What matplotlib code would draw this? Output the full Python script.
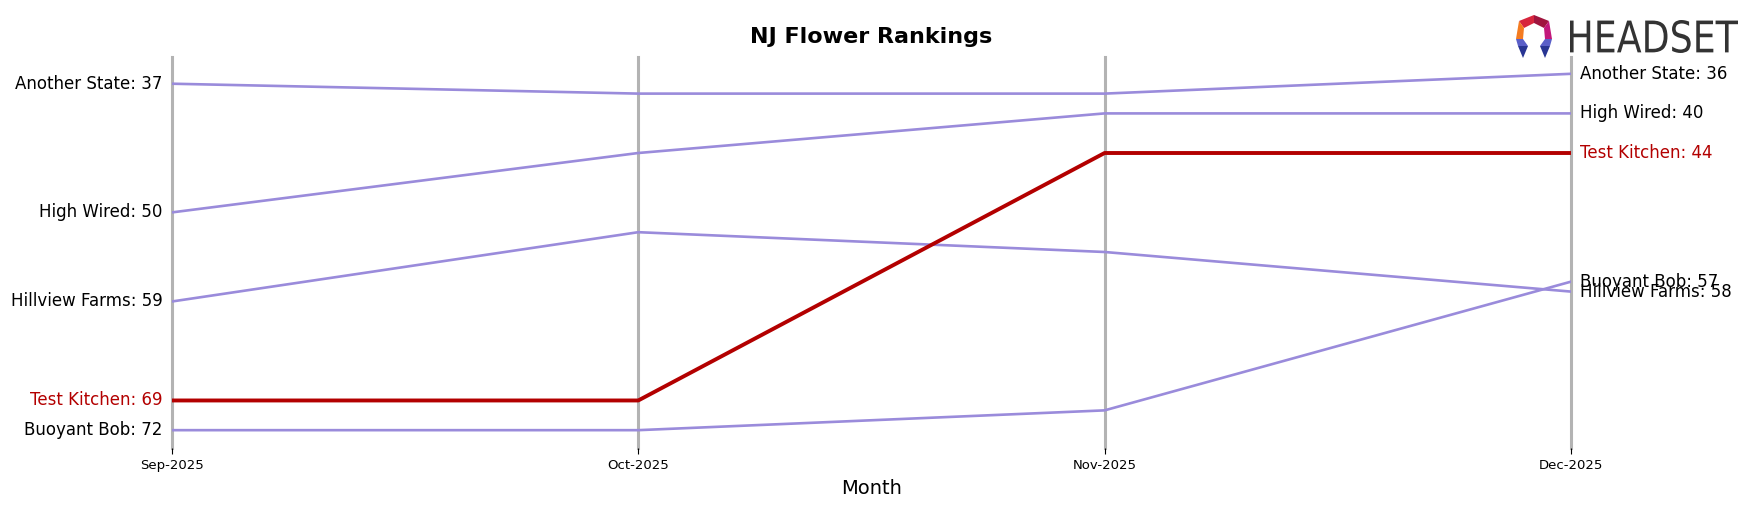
import matplotlib.pyplot as plt
from matplotlib.patches import Polygon, PathPatch
from matplotlib.textpath import TextPath
from matplotlib.font_manager import FontProperties
from matplotlib.transforms import Affine2D

months = ["Sep-2025", "Oct-2025", "Nov-2025", "Dec-2025"]
brands = ["Another State", "High Wired", "Hillview Farms", "Test Kitchen", "Buoyant Bob"]
another_state = [37, 38, 38, 36]
high_wired = [50, 44, 40, 40]
hillview_farms = [59, 52, 54, 58]
test_kitchen = [69, 69, 44, 44]
buoyant_bob = [72, 72, 70, 57]
ranks = [another_state, high_wired, hillview_farms, test_kitchen, buoyant_bob]
highlight = "Test Kitchen"

purple = "#9a8bdb"
red = "#b30000"

fig = plt.figure(figsize=(17.53, 5.07), dpi=100)
ax = fig.add_axes([0.0981, 0.1164, 0.798, 0.7712])

x = list(range(len(months)))
for name, r in zip(brands, ranks):
    if name == highlight:
        ax.plot(x, r, color=red, lw=2.8, zorder=3)
        c = red
    else:
        ax.plot(x, r, color=purple, lw=1.9, zorder=2)
        c = "black"
    ax.text(-0.02, r[0], f"{name}: {r[0]}", ha="right", va="center", fontsize=12, color=c)
    ax.text(3.02, r[-1], f"{name}: {r[-1]}", ha="left", va="center", fontsize=12, color=c)

for xi in x:
    ax.axvline(xi, color="#b3b3b3", lw=2.2, zorder=1, clip_on=False)

ax.set_xlim(0, 3)
ax.set_ylim(73.8, 34.3)
ax.set_xticks(x)
ax.set_xticklabels(months, fontsize=9.5)
ax.tick_params(axis="x", length=4, width=0.8, pad=4)
ax.set_yticks([])
for s in ax.spines.values():
    s.set_visible(False)
ax.set_xlabel("Month", fontsize=14, labelpad=5)
ax.set_title("NJ Flower Rankings", fontsize=16, fontweight="bold", pad=10)

# logo
H = 507
x0, y0 = 1515, 15
def px(pts):
    return [(x0 + a, H - (y0 + b)) for a, b in pts]
icon = [
    ([(19, 0), (19, 8), (9, 13), (4, 6)], "#d7263d"),
    ([(19, 0), (34, 6), (29, 13), (19, 8)], "#a0153e"),
    ([(4, 6), (9, 13), (8, 24), (1, 24)], "#f47b20"),
    ([(34, 6), (37, 24), (30, 24), (29, 13)], "#c2187a"),
    ([(1, 24), (8, 24), (13, 31), (3, 31)], "#5a5fc8"),
    ([(3, 31), (13, 31), (8, 43)], "#283593"),
    ([(30, 24), (37, 24), (35, 31), (25, 31)], "#5a5fc8"),
    ([(25, 31), (35, 31), (30, 43)], "#283593"),
]
for pts, col in icon:
    fig.patches.append(Polygon(px(pts), closed=True, color=col, lw=0, transform=None, figure=fig))

tp = TextPath((0, 0), "HEADSET", size=40, prop=FontProperties(family="DejaVu Sans"))
bb = tp.get_extents()
sx = (1738 - 1570) / bb.width
sy = (53 - 20) / bb.height
tr = Affine2D().translate(-bb.x0, -bb.y0).scale(sx, sy).translate(1570, H - 53)
fig.patches.append(PathPatch(tr.transform_path(tp), color="#333333", lw=0, transform=None, figure=fig))

fig.savefig("out.png", dpi=100)
